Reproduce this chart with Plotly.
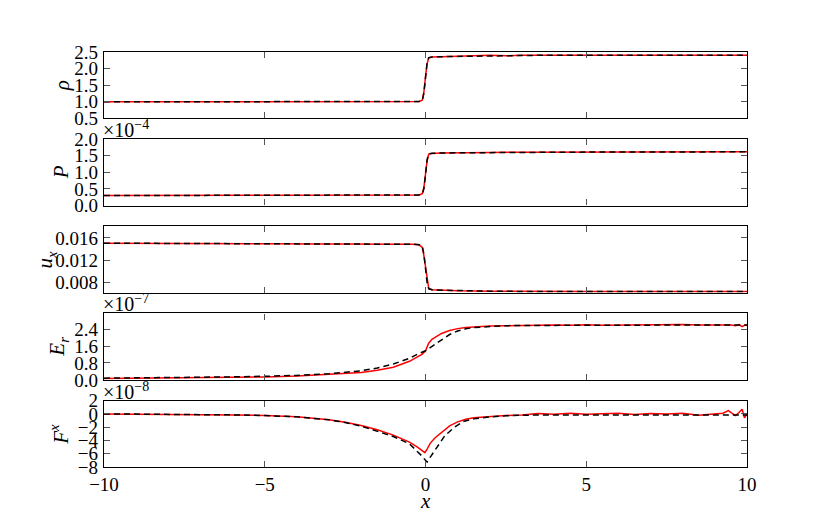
import plotly.graph_objects as go
from plotly.subplots import make_subplots

# ---------------- data ----------------
# density rho
x_rho = [-10, -5, -1, -0.4, -0.2, -0.1, -0.05, 0.0, 0.05, 0.1, 0.2, 0.5, 1.0, 1.5, 2.0, 2.5, 3.0, 3.5, 4.0, 5.0, 6.0, 7.0, 8.0, 9.0, 10.0]
rho_sim = [1.0, 1.0, 1.0, 1.005, 1.01, 1.05, 1.3, 1.75, 2.15, 2.32, 2.35, 2.36, 2.37, 2.38, 2.40, 2.385, 2.405, 2.40, 2.40, 2.40, 2.405, 2.40, 2.405, 2.405, 2.40]
rho_ana = [1.0, 1.0, 1.0, 1.005, 1.01, 1.04, 1.25, 1.72, 2.18, 2.33, 2.35, 2.36, 2.37, 2.38, 2.39, 2.39, 2.40, 2.40, 2.40, 2.40, 2.40, 2.40, 2.40, 2.40, 2.40]

# pressure P
x_p = [-10, -5, -1, -0.4, -0.2, -0.1, -0.05, 0.0, 0.05, 0.1, 0.2, 0.5, 1.0, 2.0, 3.0, 4.0, 5.0, 6.0, 7.0, 8.0, 9.0, 10.0]
p_sim = [0.30e-4, 0.30e-4, 0.305e-4, 0.31e-4, 0.32e-4, 0.36e-4, 0.55e-4, 0.95e-4, 1.35e-4, 1.55e-4, 1.57e-4, 1.58e-4, 1.59e-4, 1.60e-4, 1.605e-4, 1.61e-4, 1.61e-4, 1.61e-4, 1.615e-4, 1.615e-4, 1.62e-4, 1.62e-4]
p_ana = [0.30e-4, 0.30e-4, 0.305e-4, 0.31e-4, 0.32e-4, 0.35e-4, 0.50e-4, 0.92e-4, 1.38e-4, 1.56e-4, 1.575e-4, 1.585e-4, 1.59e-4, 1.60e-4, 1.605e-4, 1.61e-4, 1.61e-4, 1.61e-4, 1.615e-4, 1.615e-4, 1.62e-4, 1.62e-4]

# velocity u_x
x_u = [-10, -5, -1, -0.4, -0.2, -0.1, -0.05, 0.0, 0.05, 0.1, 0.2, 0.5, 1.0, 2.0, 3.0, 5.0, 7.0, 10.0]
u_sim = [0.01505, 0.01500, 0.01495, 0.01485, 0.01475, 0.0143, 0.0128, 0.0105, 0.0082, 0.0069, 0.00665, 0.00655, 0.00645, 0.00638, 0.00633, 0.00632, 0.00631, 0.00630]
u_ana = [0.01505, 0.01500, 0.01495, 0.01485, 0.01478, 0.0145, 0.0131, 0.0104, 0.0079, 0.0068, 0.00665, 0.00655, 0.00645, 0.00638, 0.00633, 0.00632, 0.00631, 0.00630]

# radiation energy E_r
x_er_ana = [-10, -8, -6, -5, -4, -3, -2.5, -2, -1.5, -1, -0.5, -0.25, 0, 0.25, 0.5, 0.75, 1.0, 1.25, 1.5, 2, 2.5, 3, 4, 5, 6, 7, 8, 9, 10]
er_ana = [0.08e-7, 0.10e-7, 0.14e-7, 0.17e-7, 0.21e-7, 0.29e-7, 0.35e-7, 0.43e-7, 0.56e-7, 0.75e-7, 1.02e-7, 1.22e-7, 1.38e-7, 1.65e-7, 1.92e-7, 2.15e-7, 2.32e-7, 2.42e-7, 2.48e-7, 2.54e-7, 2.57e-7, 2.58e-7, 2.59e-7, 2.59e-7, 2.60e-7, 2.60e-7, 2.60e-7, 2.60e-7, 2.60e-7]
x_er_sim = [-10, -8, -6, -5, -4, -3, -2.5, -2, -1.5, -1, -0.5, -0.25, -0.1, 0, 0.1, 0.2, 0.35, 0.5, 0.75, 1.0, 1.25, 1.5, 2, 2.5, 3, 3.5, 4, 4.5, 5, 5.5, 6, 6.5, 7, 7.5, 8, 8.5, 9, 9.25, 9.5, 9.65, 9.75, 9.85, 9.95, 10]
er_sim = [0.06e-7, 0.08e-7, 0.11e-7, 0.14e-7, 0.18e-7, 0.25e-7, 0.29e-7, 0.35e-7, 0.46e-7, 0.60e-7, 0.88e-7, 1.07e-7, 1.22e-7, 1.38e-7, 1.74e-7, 1.92e-7, 2.08e-7, 2.20e-7, 2.34e-7, 2.43e-7, 2.48e-7, 2.51e-7, 2.55e-7, 2.57e-7, 2.59e-7, 2.58e-7, 2.60e-7, 2.59e-7, 2.61e-7, 2.59e-7, 2.60e-7, 2.58e-7, 2.61e-7, 2.60e-7, 2.62e-7, 2.60e-7, 2.61e-7, 2.63e-7, 2.60e-7, 2.57e-7, 2.62e-7, 2.52e-7, 2.61e-7, 2.57e-7]

# radiation flux F^x
x_fx_ana = [-10, -8, -6, -5, -4, -3, -2.5, -2, -1.5, -1, -0.5, -0.25, -0.1, 0, 0.05, 0.15, 0.35, 0.6, 0.9, 1.2, 1.5, 2.0, 2.5, 3, 4, 5, 6, 7, 8, 9, 10]
fx_ana = [0.0, -0.05e-8, -0.15e-8, -0.25e-8, -0.45e-8, -0.9e-8, -1.3e-8, -1.85e-8, -2.65e-8, -3.4e-8, -4.5e-8, -5.6e-8, -6.4e-8, -7.0e-8, -7.25e-8, -6.5e-8, -5.0e-8, -3.3e-8, -2.0e-8, -1.1e-8, -0.75e-8, -0.45e-8, -0.3e-8, -0.2e-8, -0.15e-8, -0.15e-8, -0.15e-8, -0.15e-8, -0.15e-8, -0.15e-8, -0.15e-8]
x_fx_sim = [-10, -8, -6, -5, -4, -3, -2.5, -2, -1.5, -1, -0.5, -0.25, -0.1, -0.02, 0.05, 0.15, 0.3, 0.5, 0.75, 1.0, 1.25, 1.5, 2, 2.5, 3, 3.5, 4, 4.5, 5, 5.5, 6, 6.5, 7, 7.5, 8, 8.5, 9, 9.25, 9.42, 9.64, 9.75, 9.85, 9.92, 10]
fx_sim = [0.0, -0.05e-8, -0.15e-8, -0.25e-8, -0.45e-8, -0.9e-8, -1.25e-8, -1.75e-8, -2.4e-8, -3.2e-8, -4.25e-8, -5.0e-8, -5.55e-8, -5.85e-8, -5.3e-8, -4.4e-8, -3.6e-8, -2.75e-8, -1.8e-8, -1.2e-8, -0.8e-8, -0.6e-8, -0.4e-8, -0.25e-8, -0.15e-8, 0.05e-8, -0.05e-8, 0.1e-8, -0.05e-8, 0.05e-8, 0.1e-8, -0.1e-8, 0.05e-8, 0.0, 0.1e-8, -0.2e-8, 0.05e-8, 0.1e-8, 0.5e-8, -0.25e-8, 0.2e-8, 0.7e-8, -0.6e-8, 0.0]

# axis ticks
x_ticks = [-10, -5, 0, 5, 10]
x_ticktext = ["−10", "−5", "0", "5", "10"]
rho_ticks = [0.5, 1.0, 1.5, 2.0, 2.5]
rho_ticktext = ["0.5", "1.0", "1.5", "2.0", "2.5"]
p_ticks = [0.0, 0.5e-4, 1.0e-4, 1.5e-4, 2.0e-4]
p_ticktext = ["0.0", "0.5", "1.0", "1.5", "2.0"]
u_ticks = [0.008, 0.012, 0.016]
u_ticktext = ["0.008", "0.012", "0.016"]
er_ticks = [0.0, 0.8e-7, 1.6e-7, 2.4e-7]
er_ticktext = ["0.0", "0.8", "1.6", "2.4"]
fx_ticks = [-8e-8, -6e-8, -4e-8, -2e-8, 0.0, 2e-8]
fx_ticktext = ["−8", "−6", "−4", "−2", "0", "2"]

ylabels = ["<i>ρ</i>", "<i>P</i>", "<i>u<sub>x</sub></i>", "<i>E<sub>r</sub></i>", "<i>F<sup>x</sup></i>"]
exponents = [None, "×10<sup>−4</sup>", None, "×10<sup>−7</sup>", "×10<sup>−8</sup>"]

# ---------------- figure ----------------
W, H = 830, 519
OFF = 8  # page body margin offset
L, T = 104 - OFF, 51.7 - OFF
PW, PH = 642.7, 415.0
R = W - L - PW
B = H - T - PH

fig = make_subplots(rows=5, cols=1, shared_xaxes=True)

series = [
    (x_rho, rho_sim, x_rho, rho_ana),
    (x_p, p_sim, x_p, p_ana),
    (x_u, u_sim, x_u, u_ana),
    (x_er_sim, er_sim, x_er_ana, er_ana),
    (x_fx_sim, fx_sim, x_fx_ana, fx_ana),
]
for i, (xs, ys, xa, ya) in enumerate(series):
    fig.add_trace(go.Scatter(x=xs, y=ys, mode="lines", line=dict(color="#ff0000", width=1.5), showlegend=False), row=i + 1, col=1)
    fig.add_trace(go.Scatter(x=xa, y=ya, mode="lines", line=dict(color="black", width=1.5, dash="6px,4px"), showlegend=False), row=i + 1, col=1)

ph, gap = 0.16, 0.05
yranges = [[0.5, 2.5], [0.0, 2.0e-4], [0.0061, 0.0181], [0.0, 3.15e-7], [-8e-8, 2e-8]]
yticks = [(rho_ticks, rho_ticktext), (p_ticks, p_ticktext), (u_ticks, u_ticktext), (er_ticks, er_ticktext), (fx_ticks, fx_ticktext)]

tickfont = dict(family="Liberation Serif", size=19, color="black")
axis_common = dict(showgrid=False, zeroline=False, showline=True, linecolor="black", linewidth=1.3,
                   mirror="ticks", ticks="inside", ticklen=6, tickwidth=1, tickcolor="#555555", tickfont=tickfont)

for i in range(5):
    top = round(min(1.0, 1 - i * (ph + gap)), 6)
    bot = round(max(0.0, top - ph), 6)
    yname = "yaxis" if i == 0 else f"yaxis{i + 1}"
    xname = "xaxis" if i == 0 else f"xaxis{i + 1}"
    fig.layout[yname].update(domain=[bot, top], range=yranges[i], tickvals=yticks[i][0], ticktext=yticks[i][1],
                             ticklabelstandoff=1, **axis_common)
    fig.layout[xname].update(range=[-10, 10], tickvals=x_ticks, ticktext=x_ticktext,
                             showticklabels=(i == 4), ticklabelstandoff=0, **axis_common)
    # y label
    lab_x = [62, 61, 46, 58, 60][i] - OFF
    fig.add_annotation(text=ylabels[i], xref="paper", yref="paper", x=(lab_x - L) / PW, y=(bot + top) / 2,
                       textangle=-90, showarrow=False, xanchor="center", yanchor="middle",
                       font=dict(family="Liberation Serif", size=21, color="black"))
    if exponents[i]:
        fig.add_annotation(text=exponents[i], xref="paper", yref="paper", x=0, y=top, xanchor="left", yanchor="bottom",
                           showarrow=False, xshift=-3, yshift=-4, font=dict(family="Liberation Serif", size=20, color="black"))

fig.add_annotation(text="<i>x</i>", xref="paper", yref="paper", x=0.5, y=0, yshift=-34, xanchor="center", yanchor="middle",
                   showarrow=False, font=dict(family="Liberation Serif", size=21, color="black"))

fig.update_layout(width=W, height=H, margin=dict(l=L, r=R, t=T, b=B), plot_bgcolor="white", paper_bgcolor="white")

fig.write_html("out.html")
